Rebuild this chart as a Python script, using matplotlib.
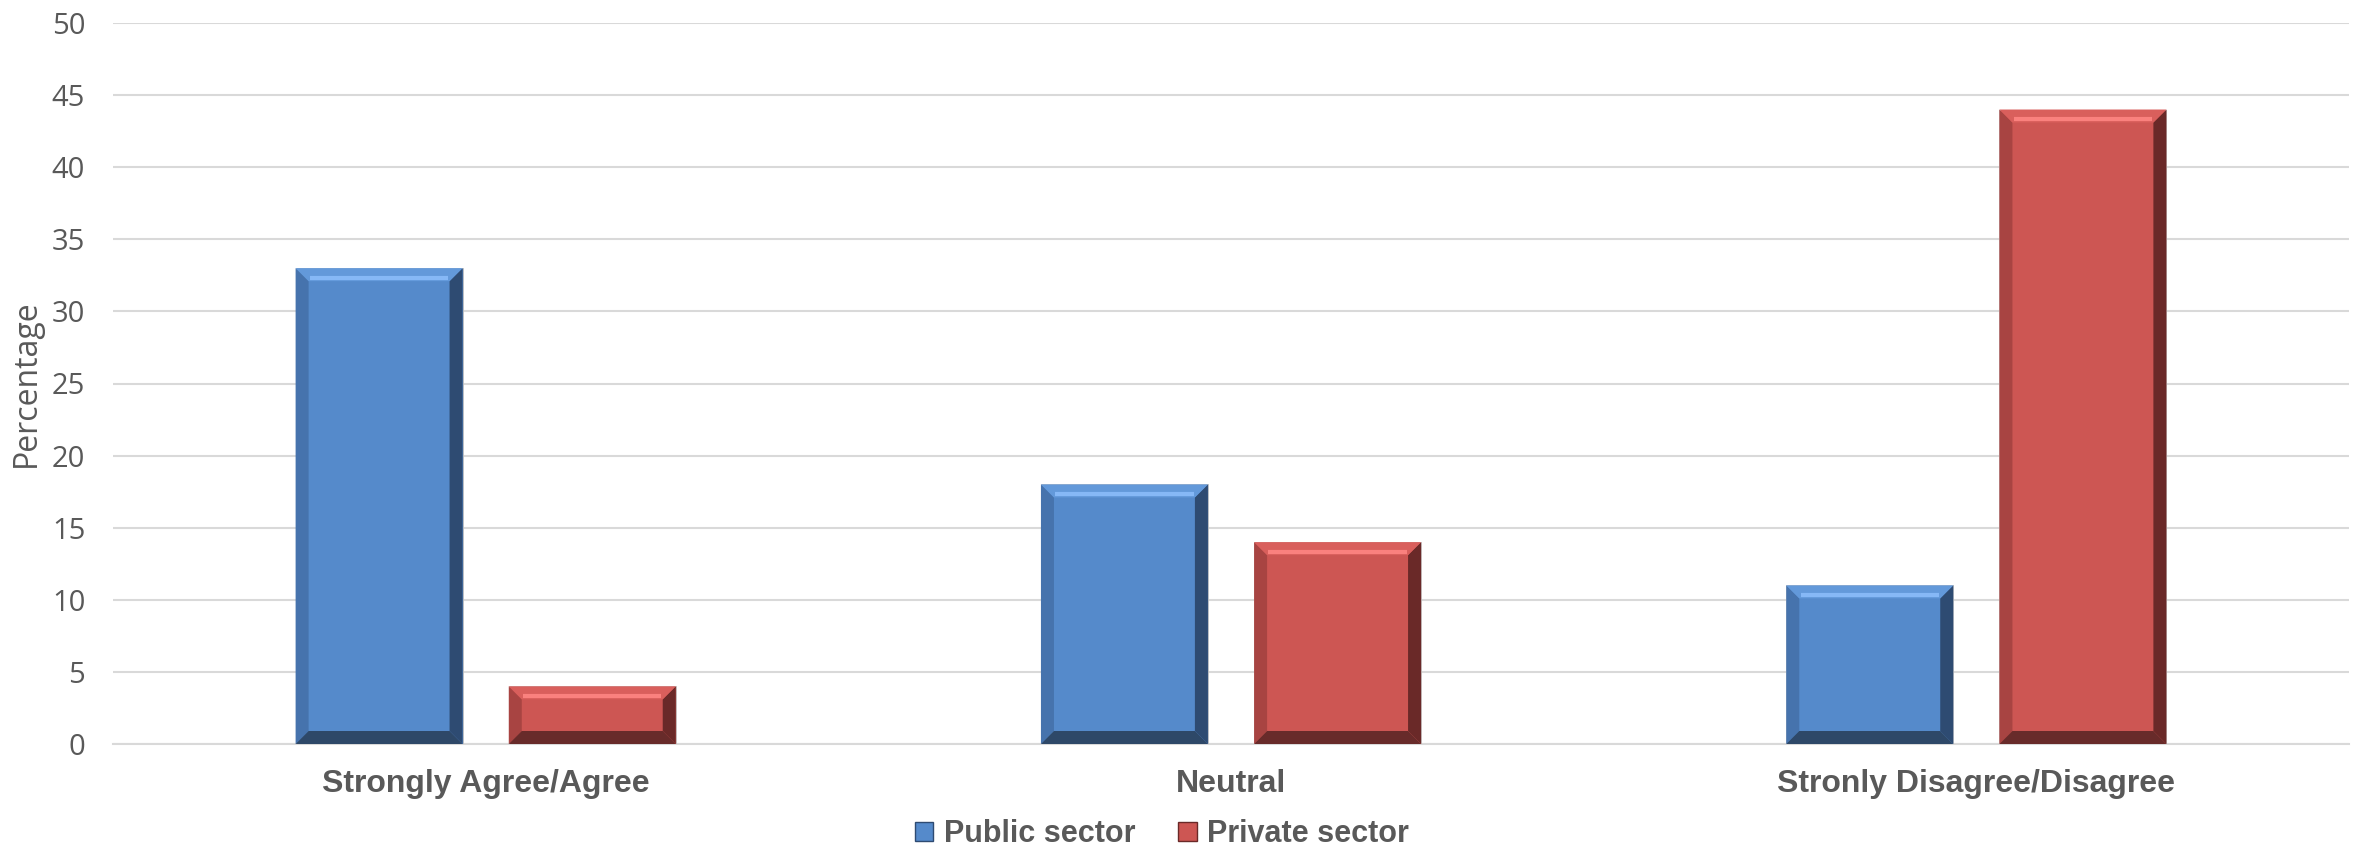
import matplotlib.pyplot as plt
import numpy as np
from matplotlib.patches import Polygon, Patch

categories = ["Strongly Agree/Agree", "Neutral", "Stronly Disagree/Disagree"]
public_sector = [33, 18, 11]
private_sector = [4, 14, 44]
series_names = ["Public sector", "Private sector"]

W, H = 2353, 848
fig = plt.figure(figsize=(W / 100, H / 100), dpi=100)
ax = fig.add_axes([113 / W, 1 - 744 / H, (2349 - 113) / W, (744 - 23) / H])

gray = "#595959"
# face, top, left, right, bottom, highlight
blue = ["#558ACB", "#6399DA", "#4673AD", "#2E4B72", "#2E4868", "#86B8F6"]
red = ["#CD5653", "#D95F5C", "#A84442", "#6A2928", "#682B2A", "#FA817E"]

x = np.arange(len(categories))
bw = 0.224
off = 0.143

bars1 = ax.bar(x - off, public_sector, bw, color=blue[0], edgecolor="#BFBFBF", linewidth=0.6, zorder=3)
bars2 = ax.bar(x + off, private_sector, bw, color=red[0], edgecolor="#BFBFBF", linewidth=0.6, zorder=3)

ax.set_xlim(-0.5, 2.5)
ax.set_ylim(0, 50)

# bevel size in data units (~13 px)
bx = 13 / 745.5
by = 13 / 14.42


def bevel(bars, c):
    for b in bars:
        x0, y0 = b.get_x(), b.get_y()
        x1, y1 = x0 + b.get_width(), y0 + b.get_height()
        ex = bx
        ey = min(by, b.get_height() / 2.5)
        top = [(x0, y1), (x1, y1), (x1 - ex, y1 - ey), (x0 + ex, y1 - ey)]
        bot = [(x0, y0), (x1, y0), (x1 - ex, y0 + ey), (x0 + ex, y0 + ey)]
        left = [(x0, y0), (x0, y1), (x0 + ex, y1 - ey), (x0 + ex, y0 + ey)]
        right = [(x1, y0), (x1, y1), (x1 - ex, y1 - ey), (x1 - ex, y0 + ey)]
        ax.add_patch(Polygon(left, closed=True, color=c[2], lw=0, zorder=4))
        ax.add_patch(Polygon(right, closed=True, color=c[3], lw=0, zorder=4))
        ax.add_patch(Polygon(bot, closed=True, color=c[4], lw=0, zorder=4))
        ax.add_patch(Polygon(top, closed=True, color=c[1], lw=0, zorder=4))
        ax.plot([x0 + ex * 1.1, x1 - ex * 1.1], [y1 - ey * 0.75, y1 - ey * 0.75],
                color=c[5], lw=3, solid_capstyle="butt", zorder=5)


bevel(bars1, blue)
bevel(bars2, red)

ax.set_yticks(np.arange(0, 51, 5))
ax.grid(axis="y", color="#D9D9D9", linewidth=1.5, zorder=0)
ax.set_axisbelow(True)
for s in ["top", "right", "left"]:
    ax.spines[s].set_visible(False)
ax.spines["bottom"].set_color("#D9D9D9")
ax.spines["bottom"].set_linewidth(1.5)

ax.tick_params(axis="y", length=0, pad=20, labelsize=21, labelcolor=gray)
ax.tick_params(axis="x", length=0, pad=18)
for t in ax.get_yticklabels():
    t.set_fontfamily("Open Sans")

ax.set_xticks(x)
ax.set_xticklabels(categories, fontsize=23, fontweight="bold", color=gray, fontfamily="Liberation Sans")

ax.set_ylabel("Percentage", fontsize=23, color=gray, fontfamily="Open Sans")
ax.yaxis.set_label_coords(-70 / (2349 - 113), 0.5)

handles = [Patch(facecolor=blue[0], edgecolor=blue[3]), Patch(facecolor=red[0], edgecolor=red[3])]
fig.legend(handles, series_names, loc="center", bbox_to_anchor=(1162 / W, 1 - 834 / H), ncol=2, frameon=False,
           prop={"family": "Liberation Sans", "weight": "bold", "size": 22}, labelcolor=gray,
           handlelength=0.6, handleheight=0.6, handletextpad=0.35, columnspacing=1.4)

fig.savefig("out.png", dpi=100)
